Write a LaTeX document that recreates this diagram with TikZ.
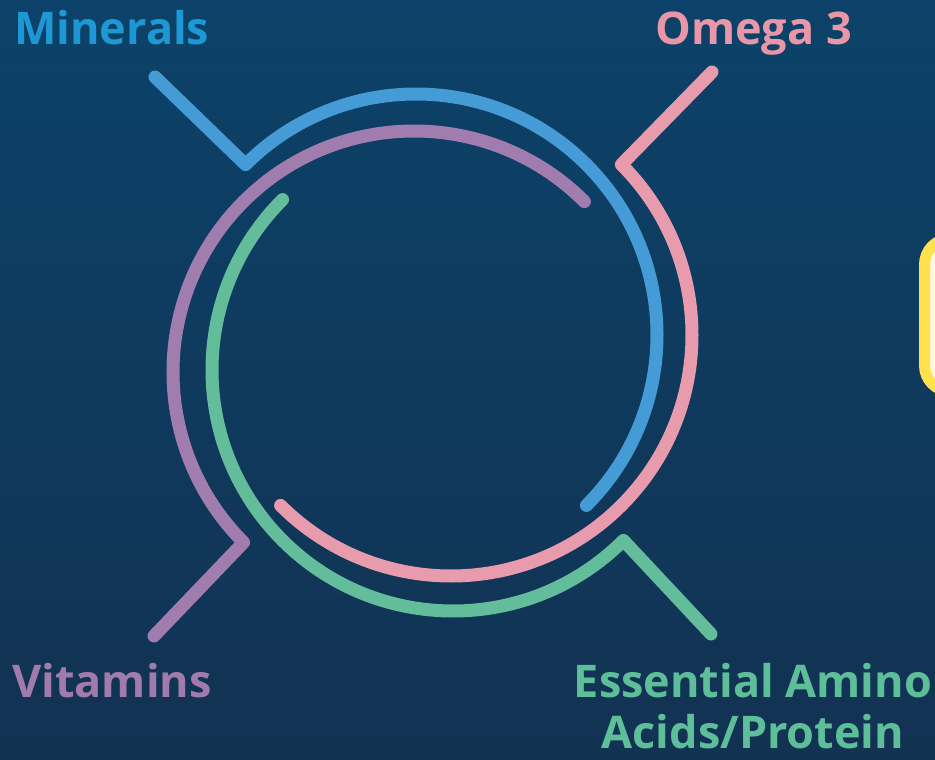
\documentclass[tikz,border=0pt]{standalone}
\usepackage{fontspec}
\usetikzlibrary{calc}
\newfontfamily\lbl{Open Sans}
\definecolor{bgtop}{RGB}{12,66,105}
\definecolor{bgbot}{RGB}{18,50,82}
\definecolor{cblue}{RGB}{68,155,214}
\definecolor{cpink}{RGB}{232,155,172}
\definecolor{cpurple}{RGB}{161,125,175}
\definecolor{cgreen}{RGB}{99,188,154}
\definecolor{tblue}{RGB}{30,152,213}
\definecolor{tpink}{RGB}{232,150,168}
\definecolor{tpurple}{RGB}{160,123,172}
\definecolor{tgreen}{RGB}{93,190,153}
\definecolor{cyell}{RGB}{255,224,77}
\definecolor{ccream}{RGB}{255,248,222}
\begin{document}
\begin{tikzpicture}[x=1pt,y=-1pt,line cap=round,line join=round,
  ring/.style={line width=13pt},
  lab/.style={inner sep=0pt,font=\lbl\bfseries\fontsize{45}{51}\selectfont}]
\useasboundingbox (0,0) rectangle (935,760);
\fill[top color=bgtop,bottom color=bgbot] (0,0) rectangle (935,760);
% yellow box cut by the right edge
\begin{scope}
\clip (0,0) rectangle (935,760);
\draw[line width=11pt,draw=cyell,fill=ccream,rounded corners=26pt] (924.5,238.5) rectangle (990,391.5);
\end{scope}
\def\R{241}
% centres
\coordinate (cb) at (416,335);
\coordinate (cp) at (451,335);
\coordinate (cv) at (414,372);
\coordinate (cg) at (453,370);
% leg ends
\coordinate (eb) at (155,77);
\coordinate (ep) at (712,72);
\coordinate (ev) at (154,636);
\coordinate (eg) at (711,634);
% corners
\coordinate (kb) at ($(cb)+(-135:\R)$);
\coordinate (kp) at ($(cp)+(-45:\R)$);
\coordinate (kv) at ($(cv)+(135:\R)$);
\coordinate (kg) at ($(cg)+(45:\R)$);
\draw[ring,cblue] (eb) -- (kb) arc[start angle=-135,end angle=45,radius=\R];
\draw[ring,cpink] (ep) -- (kp) arc[start angle=-45,end angle=135,radius=\R];
\draw[ring,cpurple] (ev) -- (kv) arc[start angle=135,end angle=315,radius=\R];
\draw[ring,cgreen] (eg) -- (kg) arc[start angle=45,end angle=225,radius=\R];
\node[lab,text=tblue,anchor=base west] (tm) at (14,45) {Minerals};
\node[lab,text=tpink,anchor=base west] (to) at (655,45) {Omega 3};
\node[lab,text=tpurple,anchor=base west] (tv) at (12,697) {Vitamins};
\node[lab,text=tgreen,anchor=base] (te1) at (753,697) {Essential Amino};
\node[lab,text=tgreen,anchor=base] (te2) at (753,748) {Acids/Protein};
\end{tikzpicture}
\end{document}
